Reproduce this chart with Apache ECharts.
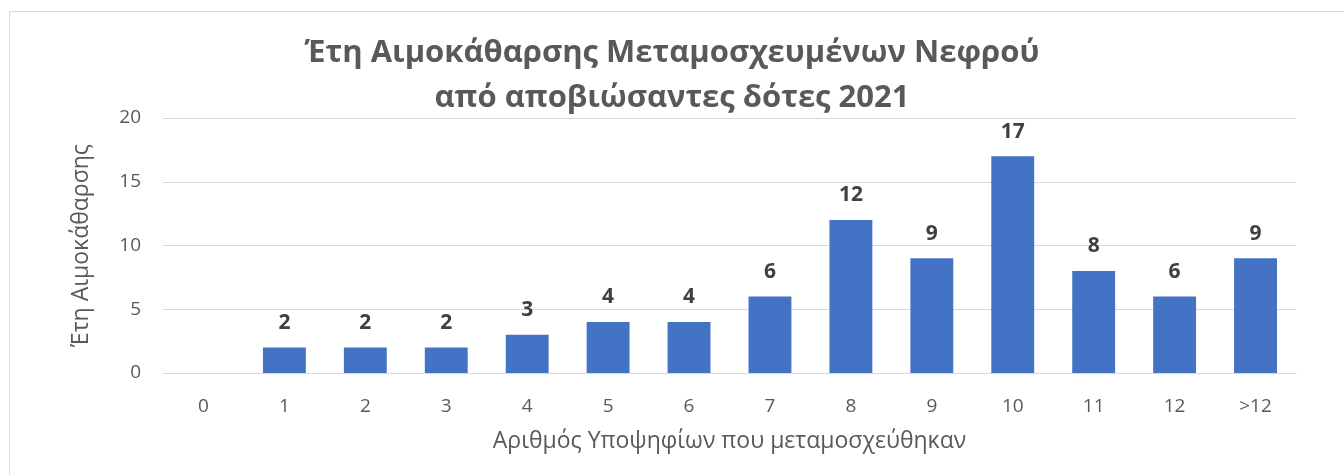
<!DOCTYPE html>
<html><head><meta charset="utf-8">
<script src="https://cdn.jsdelivr.net/npm/echarts@6/dist/echarts.min.js"></script>
<style>html,body{margin:0;padding:0;background:#fff}#c{width:1344px;height:475px}</style>
</head><body><div id="c"></div>
<script>
const categories = ['0','1','2','3','4','5','6','7','8','9','10','11','12','>12'];
const values = [0,2,2,2,3,4,4,6,12,9,17,8,6,9];
const yTicks = {min:0,max:20,interval:5};
const titleText = 'Έτη Αιμοκάθαρσης Μεταμοσχευμένων Νεφρού\nαπό αποβιώσαντες δότες 2021';
const xName = 'Αριθμός Υποψηφίων που μεταμοσχεύθηκαν';
const yName = 'Έτη Αιμοκάθαρσης';
const F = '"Open Sans", sans-serif';
const chart = echarts.init(document.getElementById('c'), null, {renderer:'canvas'});
chart.setOption({
  animation:false,
  backgroundColor:'#fff',
  graphic:[{type:'rect',shape:{x:9.5,y:11.5,width:1400,height:500},style:{fill:'none',stroke:'#d9d9d9',lineWidth:1},silent:true,z:-1}],
  title:{text:titleText,left:'center',top:26,textStyle:{fontFamily:F,fontSize:31,fontWeight:'bold',color:'#595959',lineHeight:45}},
  grid:{left:163,right:48,top:118,bottom:102},
  xAxis:{type:'category',data:categories,
    axisLine:{lineStyle:{color:'#d9d9d9',width:1}},axisTick:{show:false},
    axisLabel:{fontFamily:F,fontSize:19,color:'#595959',margin:24},
    name:xName,nameLocation:'middle',nameGap:57,nameTextStyle:{fontFamily:F,fontSize:23,color:'#595959'}},
  yAxis:{type:'value',min:yTicks.min,max:yTicks.max,interval:yTicks.interval,
    axisLine:{show:false},axisTick:{show:false},
    splitLine:{lineStyle:{color:'#d9d9d9',width:1}},
    axisLabel:{fontFamily:F,fontSize:19,color:'#595959',margin:22},
    name:yName,nameLocation:'middle',nameGap:70,nameRotate:90,nameTextStyle:{fontFamily:F,fontSize:23,color:'#595959'}},
  series:[{type:'bar',data:values,barWidth:'53%',itemStyle:{color:'#4472c4'},
    label:{show:true,position:'top',distance:14,fontFamily:F,fontSize:21,fontWeight:'bold',color:'#404040',
      formatter:p=>p.value===0?'':p.value}}]
});
</script></body></html>
